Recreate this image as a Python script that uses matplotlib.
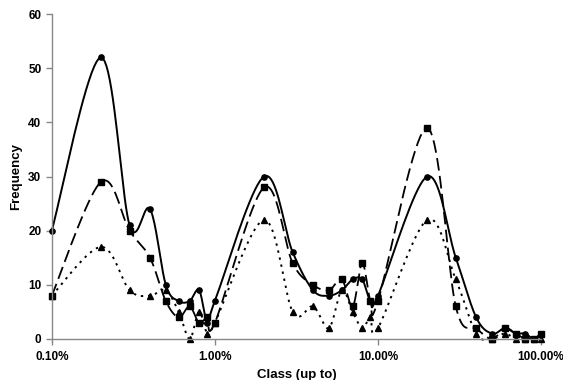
import numpy as np
import matplotlib
matplotlib.use("Agg")
import matplotlib.pyplot as plt
from matplotlib.ticker import FuncFormatter, FixedLocator, NullLocator

plt.rcParams['font.family'] = ['Liberation Sans', 'DejaVu Sans']

# class upper bounds (fraction)
classes = [0.001, 0.002, 0.003, 0.004, 0.005, 0.006, 0.007, 0.008, 0.009,
           0.01, 0.02, 0.03, 0.04, 0.05, 0.06, 0.07, 0.08, 0.09,
           0.1, 0.2, 0.3, 0.4, 0.5, 0.6, 0.7, 0.8, 0.9, 1.0]

freq_circle = [20, 52, 21, 24, 10, 7, 7, 9, 3,
               7, 30, 16, 9, 8, 9, 11, 11, 7,
               8, 30, 15, 4, 1, 2, 1, 1, 0, 1]
freq_square = [8, 29, 20, 15, 7, 4, 6, 3, 4,
               3, 28, 14, 10, 9, 11, 6, 14, 7,
               7, 39, 6, 2, 0, 2, 1, 0, 0, 1]
freq_triangle = [8, 17, 9, 8, 9, 5, 0, 5, 1,
                 3, 22, 5, 6, 2, 9, 5, 2, 4,
                 2, 22, 11, 1, 0, 1, 0, 0, 0, 0]


def smooth(x, y, n=20):
    # Excel-like smoothed line (Catmull-Rom in log-x space)
    lx = np.log10(x)
    y = np.asarray(y, float)
    px = np.concatenate([[lx[0]], lx, [lx[-1]]])
    py = np.concatenate([[y[0]], y, [y[-1]]])
    xs, ys = [], []
    t = np.linspace(0, 1, n, endpoint=False)
    for i in range(1, len(px) - 2):
        p0, p1, p2, p3 = (np.array([px[j], py[j]]) for j in range(i - 1, i + 3))
        c1 = p1 + (p2 - p0) / 6
        c2 = p2 - (p3 - p1) / 6
        pts = ((1 - t) ** 3)[:, None] * p1 + (3 * (1 - t) ** 2 * t)[:, None] * c1 \
            + (3 * (1 - t) * t ** 2)[:, None] * c2 + (t ** 3)[:, None] * p2
        xs.extend(pts[:, 0])
        ys.extend(pts[:, 1])
    xs.append(lx[-1])
    ys.append(y[-1])
    return 10 ** np.array(xs), np.array(ys)


fig = plt.figure(figsize=(5.63, 3.8), dpi=100)
ax = fig.add_axes([0.092, 0.108, 0.869, 0.855])

series = [
    (freq_circle, 'o', (0, ()), 1.4),
    (freq_square, 's', (0, (7, 3)), 1.3),
    (freq_triangle, '^', (0, (1.2, 2.5)), 1.4),
]
for vals, mk, ls, lw in series:
    sx, sy = smooth(classes, vals)
    ax.plot(sx, sy, color='black', linestyle=ls, linewidth=lw, clip_on=False)
    ax.plot(classes, vals, linestyle='none', marker=mk, markersize=3.8,
            color='black', clip_on=False)

ax.set_xscale('log')
ax.set_xlim(0.001, 1.0)
ax.set_ylim(0, 60)
ax.xaxis.set_major_locator(FixedLocator([0.001, 0.01, 0.1, 1.0]))
ax.xaxis.set_minor_locator(NullLocator())
ax.xaxis.set_major_formatter(FuncFormatter(lambda v, p: '{:.2%}'.format(v)))
ax.set_yticks([0, 10, 20, 30, 40, 50, 60])

for s in ['top', 'right']:
    ax.spines[s].set_visible(False)
for s in ['left', 'bottom']:
    ax.spines[s].set_color('#888888')
    ax.spines[s].set_linewidth(1.0)
ax.tick_params(axis='both', colors='#888888', length=4, width=1.0,
               labelcolor='black', labelsize=8.5)
ax.tick_params(axis='x', pad=5)
for lab in ax.get_xticklabels() + ax.get_yticklabels():
    lab.set_fontweight('bold')

ax.set_xlabel('Class (up to)', fontsize=9.5, fontweight='bold', labelpad=4)
ax.set_ylabel('Frequency', fontsize=9.5, fontweight='bold', labelpad=4)

fig.savefig('out.png', dpi=100)
